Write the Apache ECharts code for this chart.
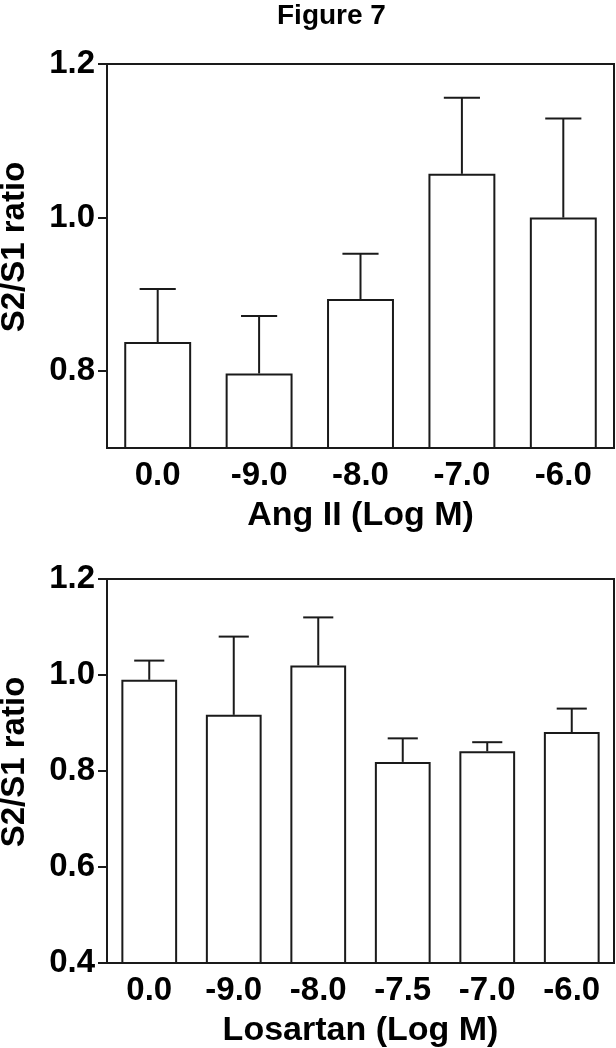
<!DOCTYPE html>
<html>
<head>
<meta charset="utf-8">
<script src="https://cdn.jsdelivr.net/npm/echarts@6/dist/echarts.min.js"></script>
<style>
html,body{margin:0;padding:0;background:#fff;}
#chart{width:616px;height:1048px;}
</style>
</head>
<body>
<div id="chart"></div>
<script>
// Top panel: Ang II
const topCategories = ['0.0', '-9.0', '-8.0', '-7.0', '-6.0'];
const topMeans = [0.838, 0.797, 0.894, 1.057, 1.0];
const topErrTop = [0.907, 0.872, 0.953, 1.156, 1.129];
const topTicks = [0.8, 1.0, 1.2];

// Bottom panel: Losartan
const botCategories = ['0.0', '-9.0', '-8.0', '-7.5', '-7.0', '-6.0'];
const botMeans = [0.99, 0.917, 1.02, 0.819, 0.841, 0.881];
const botErrTop = [1.03, 1.08, 1.12, 0.868, 0.86, 0.93];

const FONT = '"Liberation Sans", Arial, sans-serif';
const INK = '#1a1a1a';

function errSeries(axisIdx, means, tops, barFrac) {
  return {
    type: 'custom',
    xAxisIndex: axisIdx,
    yAxisIndex: axisIdx,
    z: 5,
    silent: true,
    data: means.map((m, i) => [i, m, tops[i]]),
    renderItem: function (params, api) {
      const i = api.value(0);
      const p0 = api.coord([i, api.value(1)]);
      const p1 = api.coord([i, api.value(2)]);
      const bw = api.size([1, 0])[0] * barFrac;
      const half = bw * 0.27;
      const style = { stroke: INK, lineWidth: 2 };
      return {
        type: 'group',
        children: [
          { type: 'line', shape: { x1: p0[0], y1: p0[1], x2: p1[0], y2: p1[1] }, style: style },
          { type: 'line', shape: { x1: p1[0] - half, y1: p1[1], x2: p1[0] + half, y2: p1[1] }, style: style }
        ]
      };
    }
  };
}

function xAxisCfg(gridIndex, cats, name) {
  return {
    type: 'category',
    gridIndex: gridIndex,
    data: cats,
    name: name,
    nameLocation: 'middle',
    nameGap: 51,
    nameTextStyle: { fontFamily: FONT, fontWeight: 'bold', fontSize: 34, color: '#000' },
    axisLine: { lineStyle: { color: INK, width: 2 } },
    axisTick: { show: false },
    axisLabel: { margin: 11, fontFamily: FONT, fontWeight: 'bold', fontSize: 33, color: '#000' },
    splitLine: { show: false }
  };
}

function yAxisCfg(gridIndex, min, max, interval, ticks) {
  const cfg = {
    type: 'value',
    gridIndex: gridIndex,
    min: min,
    max: max,
    interval: interval,
    name: 'S2/S1 ratio',
    nameLocation: 'middle',
    nameGap: 76,
    nameTextStyle: { fontFamily: FONT, fontWeight: 'bold', fontSize: 33, color: '#000', padding: [0, 0, 0, 18] },
    axisLine: { show: true, lineStyle: { color: INK, width: 2 } },
    axisTick: { show: true, length: 9, lineStyle: { color: INK, width: 2 } },
    axisLabel: {
      margin: 12, fontFamily: FONT, fontWeight: 'bold', fontSize: 33, color: '#000',
      formatter: v => v.toFixed(1)
    },
    splitLine: { show: false }
  };
  if (ticks) {
    cfg.axisTick.customValues = ticks;
    cfg.axisLabel.customValues = ticks;
  }
  return cfg;
}

const chart = echarts.init(document.getElementById('chart'), null, { renderer: 'canvas' });
chart.setOption({
  animation: false,
  backgroundColor: '#fff',
  title: {
    text: 'Figure 7',
    left: 272,
    top: -3,
    textStyle: { fontFamily: FONT, fontWeight: 'bold', fontSize: 28, color: '#000' }
  },
  grid: [
    { left: 107, right: 2, top: 64, height: 384, show: true, borderColor: INK, borderWidth: 2, backgroundColor: 'transparent', outerBoundsMode: 'none', containLabel: false },
    { left: 107, right: 2, top: 579, height: 384, show: true, borderColor: INK, borderWidth: 2, backgroundColor: 'transparent', outerBoundsMode: 'none', containLabel: false }
  ],
  xAxis: [
    xAxisCfg(0, topCategories, 'Ang II (Log M)'),
    xAxisCfg(1, botCategories, 'Losartan (Log M)')
  ],
  yAxis: [
    yAxisCfg(0, 0.7, 1.2, 0.1, topTicks),
    yAxisCfg(1, 0.4, 1.2, 0.2, null)
  ],
  series: [
    {
      type: 'bar', xAxisIndex: 0, yAxisIndex: 0, data: topMeans, barWidth: '66%',
      itemStyle: { color: '#fff', borderColor: INK, borderWidth: 2 }, z: 3
    },
    errSeries(0, topMeans, topErrTop, 0.66),
    {
      type: 'bar', xAxisIndex: 1, yAxisIndex: 1, data: botMeans, barWidth: '66%',
      itemStyle: { color: '#fff', borderColor: INK, borderWidth: 2 }, z: 3
    },
    errSeries(1, botMeans, botErrTop, 0.66)
  ]
});
</script>
</body>
</html>
